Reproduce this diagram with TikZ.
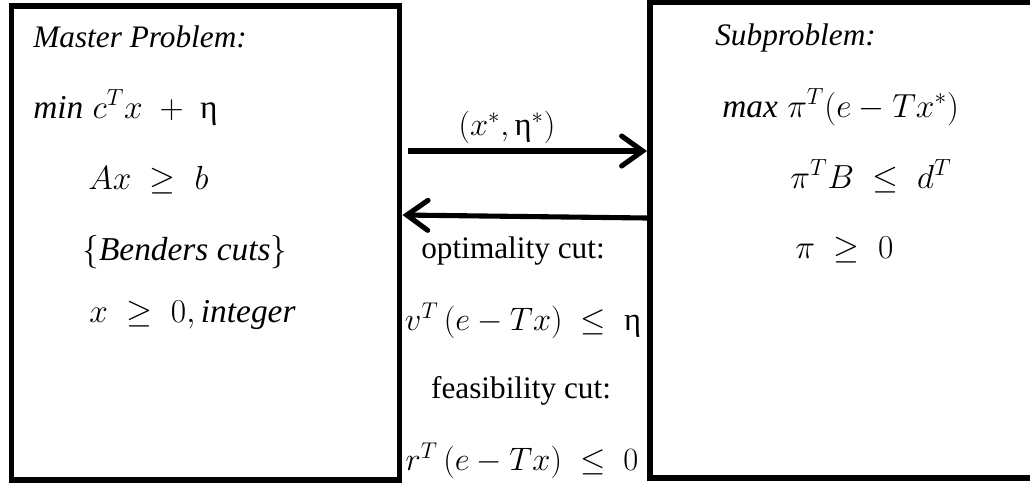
\documentclass[tikz,border=0pt]{standalone}
\usepackage{fix-cm}
\usepackage{amsmath,amssymb}
\usepackage{fontspec}
\setmainfont{Liberation Serif}[ItalicFont={Liberation Serif Italic}]
\usepackage{tikz}
\usetikzlibrary{positioning, arrows.meta}
\definecolor{nInk}{HTML}{000000}
\tikzset{
  probbox/.style={draw=nInk, line width=3.4pt, inner sep=0pt},
  boxtitle/.style={anchor=base west, inner sep=0pt, text=nInk,
    font=\fontsize{17.8}{21}\selectfont\itshape},
  boxmath/.style={anchor=base west, inner sep=0pt, text=nInk,
    font=\fontsize{19}{23}\selectfont},
  cutlabel/.style={anchor=base, inner sep=0pt, text=nInk,
    font=\fontsize{17.8}{21}\selectfont},
  cutmath/.style={anchor=base, inner sep=0pt, text=nInk,
    font=\fontsize{18.5}{22}\selectfont},
  passarrow/.style={-{Straight Barb[length=0.42cm, width=0.6cm, line cap=round]},
    line width=2.9pt, nInk},
}
\newcommand{\upeta}{\textrm{η}}
\newcommand{\mword}[1]{\textit{#1}}

\begin{document}
\begin{tikzpicture}
  \useasboundingbox (0,0) rectangle (20.6,-9.66);
  \node[probbox, minimum width=7.76cm, minimum height=9.48cm] (master) at (4.11,-4.86) {};
  \node[probbox, minimum width=8cm, minimum height=9.51cm] (sub) at (17.0,-4.805) {};

  \node[boxtitle] (mtitle) at (0.66,-0.94) {Master Problem:};
  \node[boxmath] (mobj) at (0.66,-2.36) {$\mword{min}\;c^{T}x\;+\;\upeta$};
  \node[boxmath] (mcon) at (1.76,-3.78) {$Ax\;\geq\;b$};
  \node[boxmath] (mcuts) at (1.64,-5.2) {$\{\mword{Benders cuts}\}$};
  \node[boxmath] (mint) at (1.78,-6.44) {$x\;\geq\;0,\mword{integer}$};

  \node[boxtitle] (stitle) at (14.3,-0.9) {Subproblem:};
  \node[boxmath] (sobj) at (14.44,-2.34) {$\mword{max}\;\pi^{T}(e-Tx^{*})$};
  \node[boxmath] (scon) at (15.8,-3.76) {$\pi^{T}B\;\leq\;d^{T}$};
  \node[boxmath] (ssign) at (15.9,-5.16) {$\pi\;\geq\;0$};

  \node[cutmath] (sol) at (10.14,-2.7) {$(x^{*},\upeta^{*})$};
  \node[cutlabel] (optlab) at (10.26,-5.16) {optimality cut:};
  \node[cutmath] (optcut) at (10.46,-6.6) {$v^{T}\,(e-Tx)\;\leq\;\upeta$};
  \node[cutlabel] (feaslab) at (10.42,-7.96) {feasibility cut:};
  \node[cutmath] (feascut) at (10.44,-9.4) {$r^{T}\,(e-Tx)\;\leq\;0$};

  \coordinate (sendlane) at (0,-3.02);
  \coordinate (backlane) at (0,-4.36);
  \coordinate (backend) at (0,-4.3);
  \draw[passarrow] ([xshift=0.12cm]master.east |- sendlane) -- (sub.west |- sendlane);
  \draw[passarrow] (sub.west |- backlane) -- (master.east |- backend);
\end{tikzpicture}
\end{document}
